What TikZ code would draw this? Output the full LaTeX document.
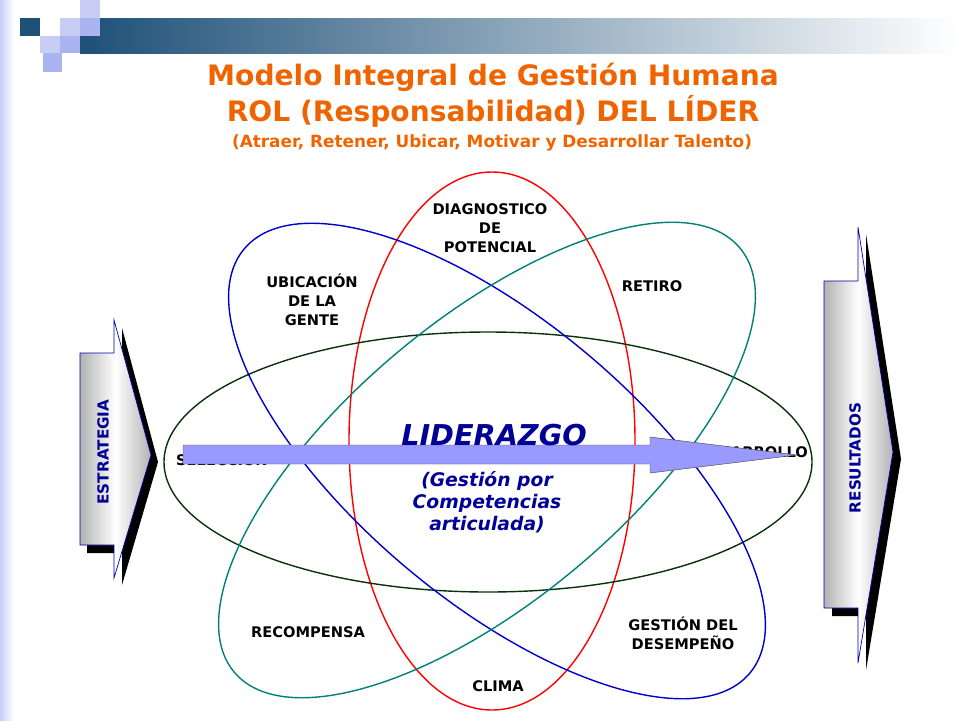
\documentclass[tikz,border=0pt]{standalone}
\usepackage{fontspec}
\setmainfont{DejaVu Sans}
\usetikzlibrary{arrows.meta}
\usetikzlibrary{calc}
\usepackage{xcolor}
\definecolor{titleorange}{RGB}{240,100,0}
\definecolor{barblue}{RGB}{30,80,120}
\definecolor{lavender}{RGB}{200,205,245}
\definecolor{darklav}{RGB}{170,180,240}
\definecolor{arrowfill}{RGB}{153,153,255}
\definecolor{ringteal}{RGB}{0,128,120}
\definecolor{ringgreen}{RGB}{10,50,10}
\definecolor{textblue}{RGB}{0,0,150}

\tikzset{
	lbl/.style={font=\fontsize{12.5}{16}\selectfont\bfseries,align=center,text=black},
	ttl/.style={font=\fontsize{24}{28}\selectfont\bfseries,text=titleorange},
	ring/.style={line width=1.2pt},
	sidebox/.style={draw=blue!70!black,line width=0.6pt,left color=gray!60,right color=gray!60,middle color=white}
}

\begin{document}
\begin{tikzpicture}[x=0.03cm,y=-0.03cm]
	\useasboundingbox (0,0) rectangle (960,720);
	% header
	\fill[left color=barblue,right color=white] (80,18) rectangle (960,53);
	\fill[left color=lavender,right color=white] (0,0) rectangle (14,720);
	\fill[barblue] (20,18) rectangle (40,36);
	\fill[lavender] (80,0) rectangle (100,18);
	\fill[lavender] (60,18) rectangle (80,36);
	\fill[darklav] (80,18) rectangle (100,36);
	\fill[lavender] (40,36) rectangle (60,53);
	\fill[darklav] (60,36) rectangle (80,53);
	\fill[darklav] (43,53) rectangle (62,72);
	
	\node(t1) at (493,77)[ttl]{Modelo Integral de Gestión Humana};
	\node(t2) at (493,111)[ttl]{ROL (Responsabilidad) DEL LÍDER};
	\node(t3) at (492,143)[font=\fontsize{14.4}{16}\selectfont\bfseries,text=titleorange]{(Atraer, Retener, Ubicar, Motivar y Desarrollar Talento)};
	
	% rings
	\draw[ring,red] (492,441) ellipse [x radius=143,y radius=269];
	\draw[ring,ringgreen] (488,462) ellipse [x radius=324,y radius=130];
	\draw[ring,blue!80!black] (497,461) ellipse [x radius=330,y radius=140,rotate=-40];
	\draw[ring,ringteal] (487,460) ellipse [x radius=330,y radius=140,rotate=40];
	
	% labels
	\node(diag) at (490,228)[lbl]{DIAGNOSTICO\\DE\\POTENCIAL};
	\node(ubic) at (312,300)[lbl]{UBICACIÓN\\DE LA\\GENTE};
	\node(ret) at (652,286)[lbl]{RETIRO};
	\node(sel) at (172,459)[lbl,anchor=west]{SELECCIÓN};
	\node(des) at (812,452)[lbl,anchor=east]{DESARROLLO};
	\node(rec) at (308,632)[lbl]{RECOMPENSA};
	\node(gest) at (683,633)[lbl]{GESTIÓN DEL\\DESEMPEÑO};
	\node(clima) at (498,686)[lbl]{CLIMA};
	
	% middle arrow
	\draw[fill=arrowfill,draw=black!70,line join=miter] (183,445) -- (650,445) -- (650,437) -- (797,455) -- (650,473) -- (650,464) -- (183,464) -- cycle;
	
	\node(lid) at (494,435)[text=textblue,font=\fontsize{24.5}{26}\selectfont\bfseries\itshape]{LIDERAZGO};
	\node(gpc) at (487,502)[text=textblue,align=center,font=\fontsize{16}{19}\selectfont\bfseries\itshape]{(Gestión por\\Competencias\\articulada)};
	
	% side arrows
	\fill[black] (87,360) -- (122,360) -- (122,328) -- (158,462) -- (122,585) -- (122,553) -- (87,553) -- cycle;
	\draw[sidebox] (80,353) -- (114,353) -- (114,320) -- (151,455) -- (114,578) -- (114,545) -- (80,545) -- cycle;
	\node(estr) at (103,452)[rotate=90,text=textblue,font=\fontsize{13}{14}\selectfont\bfseries]{ESTRATEGIA};
	
	\fill[black] (832,289) -- (866,289) -- (866,234) -- (901,459) -- (866,670) -- (866,616) -- (832,616) -- cycle;
	\draw[sidebox] (824,281) -- (858,281) -- (858,227) -- (893,452) -- (858,663) -- (858,608) -- (824,608) -- cycle;
	\node(res) at (855,458)[rotate=90,text=textblue,font=\fontsize{13}{14}\selectfont\bfseries]{RESULTADOS};
\end{tikzpicture}
\end{document}
